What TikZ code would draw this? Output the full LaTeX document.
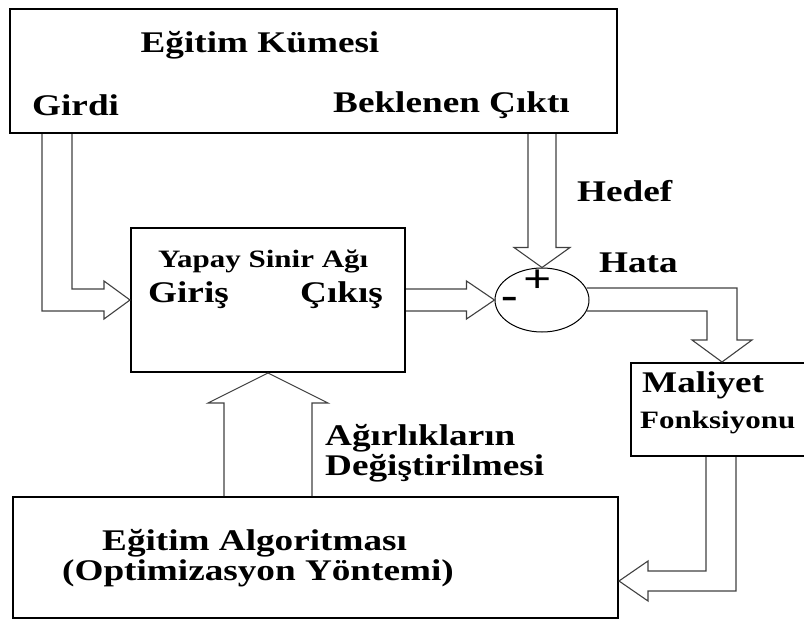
\documentclass[tikz,border=0pt]{standalone}
\usepackage{fontspec}
\setmainfont{Liberation Serif}[FakeStretch=1.24]
\usetikzlibrary{calc,shapes.geometric}

\begin{document}
\begin{tikzpicture}[x=1pt,y=-1pt,
  box/.style={draw,line width=2pt,inner sep=0pt},
  hollow/.style={draw=black!75,line width=1.1pt,line join=miter},
  lbl/.style={font=\bfseries\fontsize{30}{36}\selectfont,inner sep=0pt,anchor=base west},
  sml/.style={lbl,font=\bfseries\fontsize{25}{30}\selectfont},
  sign/.style={font=\bfseries\fontsize{40}{44}\selectfont,inner sep=0pt}]
  \useasboundingbox (0,0) rectangle (804,621);
  \clip (0,0) rectangle (804,621);
  \node[box,minimum width=607pt,minimum height=124pt] (set) at (313.5,71) {};
  \node[box,minimum width=274pt,minimum height=144pt] (ann) at (268,300) {};
  \node[draw,ellipse,line width=1pt,minimum width=94pt,minimum height=64pt,
    inner sep=0pt] (sum) at (542,300) {};
  \node[box,minimum width=200pt,minimum height=93pt] (cost) at (731,409.5) {};
  \node[box,minimum width=605pt,minimum height=121pt] (algo) at (315.5,557.5) {};
  \node[lbl,anchor=base] (settitle) at (260,52) {Eğitim Kümesi};
  \node[lbl] (girdi) at (32,115) {Girdi};
  \node[lbl] (expected) at (333,112) {Beklenen Çıktı};
  \node[sml] (anntitle) at (158,267) {Yapay Sinir Ağı};
  \node[lbl] (giris) at (148,302) {Giriş};
  \node[lbl] (cikis) at (300,302) {Çıkış};
  \node[lbl] (hedef) at (577,201) {Hedef};
  \node[lbl] (hata) at (599,272) {Hata};
  \node[sign] (plus) at (538,281) {+};
  \node[sign] (minus) at (510,303) {-};
  \node[lbl] (maliyet) at (642,392) {Maliyet};
  \node[sml] (fonk) at (640,428) {Fonksiyonu};
  \node[lbl] (agirlik) at (325,445) {Ağırlıkların};
  \node[lbl] (degis) at (325,475) {Değiştirilmesi};
  \node[lbl] (algotitle) at (102,550) {Eğitim Algoritması};
  \node[lbl] (optim) at (62,580) {(Optimizasyon Yöntemi)};
  \coordinate (hatatip) at ($(cost.north)+(-9,0)$);
  \coordinate (algotip) at ($(algo.south east)+(0,-38)$);
  % hollow arrows
  \draw[hollow] ($(set.south west)+(33,0)$) |- ($(ann.west)+(-26,11)$) -- ++(0,8)
    -- (ann.west) -- ++(-26,-19) -- ++(0,8) -| ($(set.south west)+(63,0)$);
  \draw[hollow] ($(ann.east)+(0,-11)$) -- ($(sum.west)+(-28,-11)$) -- ++(0,-8)
    -- (sum.west) -- ++(-28,19) -- ++(0,-8) -- ($(ann.east)+(0,11)$);
  \draw[hollow] ($(set.south -| sum.north)+(-14,0)$) -- ($(sum.north)+(-14,-20)$)
    -- ++(-14,0) -- (sum.north) -- ++(28,-20) -- ++(-14,0)
    -- ($(set.south -| sum.north)+(14,0)$);
  \draw[hollow] ($(sum.east)+(-3,-12)$) -| ($(hatatip)+(15,-22)$) -- ++(15,0)
    -- (hatatip) -- ++(-30,-22) -- ++(15,0) |- ($(sum.east)+(-3,11)$);
  \draw[hollow] ($(cost.south west)+(76,0)$) |- ($(algotip)+(29,-10)$) -- ++(0,-10)
    -- (algotip) -- ++(29,20) -- ++(0,-10) -| ($(cost.south west)+(106,0)$);
  \draw[hollow] ($(algo.north -| ann.south)+(-44,0)$) -- ($(ann.south)+(-44,30)$)
    -- ++(-16,0) -- (ann.south) -- ++(60,30) -- ++(-16,0)
    -- ($(algo.north -| ann.south)+(44,0)$);
\end{tikzpicture}
\end{document}
